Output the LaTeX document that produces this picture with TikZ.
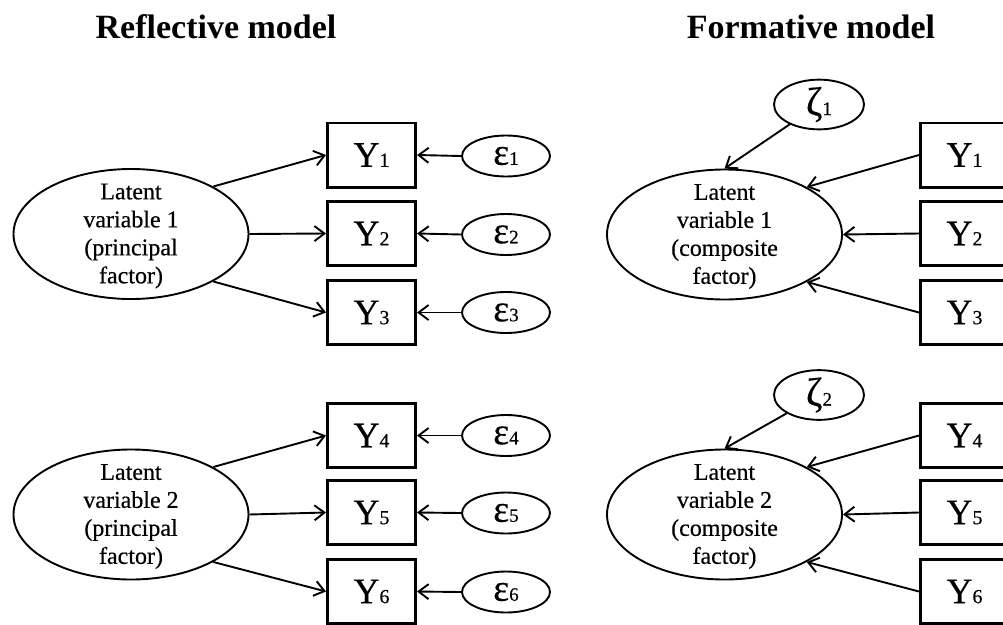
\documentclass[tikz,border=0pt]{standalone}
\usepackage{fontspec}
\setmainfont{Liberation Serif}[UprightFeatures={FakeBold=0.4}]
\usetikzlibrary{shapes.geometric,arrows.meta}
% small digits set on the baseline after a symbol
\newcommand\ydig[1]{{\fontsize{20}{20}\selectfont #1}}
\newcommand\gdig[1]{{\fontsize{19}{19}\selectfont #1}}
\begin{document}
\begin{tikzpicture}[x=1pt,y=-1pt,
  lat/.style={ellipse,draw,line width=1.9pt,inner sep=0pt,
    minimum width=235pt,minimum height=130pt},
  lattext/.style={align=center,inner sep=0pt,
    font=\fontsize{24}{28}\selectfont},
  obs/.style={rectangle,draw,line width=2.8pt,inner sep=0pt,
    minimum width=88.2pt,minimum height=64.2pt,
    font=\fontsize{36}{36}\selectfont},
  err/.style={ellipse,draw,line width=1.9pt,inner sep=0pt,
    minimum width=88pt,minimum height=41pt,
    font=\fontsize{38}{38}\selectfont},
  dist/.style={ellipse,draw,line width=1.9pt,inner sep=0pt,
    minimum width=90pt,minimum height=41pt,
    font=\fontsize{40}{40}\selectfont},
  link/.style={line width=1.9pt,-{Straight Barb[length=10pt,width=15pt]}},
  heading/.style={anchor=base,inner sep=0pt,
    font=\bfseries\fontsize{34}{34}\selectfont}
]
\useasboundingbox (0,0) rectangle (1003,624);
\clip (0,0) rectangle (1003,624);

% headings
\node[heading] (hr) at (216,38) {Reflective model};
\node[heading] (hf) at (811,38) {Formative model};

% ---------- reflective model ----------
\node[lat] (r1) at (131,234) {};
\node[lattext] (r1t) at (131,236) {Latent\\variable 1\\(principal\\factor)};
\node[lat] (r2) at (131,514.5) {};
\node[lattext] (r2t) at (131,516.5) {Latent\\variable 2\\(principal\\factor)};

\node[obs] (y1) at (371.5,155)   {Y\ydig{1}};
\node[obs] (y2) at (371.5,233.5) {Y\ydig{2}};
\node[obs] (y3) at (371.5,312.5) {Y\ydig{3}};
\node[obs] (y4) at (371.5,435.5) {Y\ydig{4}};
\node[obs] (y5) at (371.5,512.5) {Y\ydig{5}};
\node[obs] (y6) at (371.5,591.5) {Y\ydig{6}};

\node[err] (e1) at (506,156)   {ε\gdig{1}};
\node[err] (e2) at (506,234.5) {ε\gdig{2}};
\node[err] (e3) at (506,312.5) {ε\gdig{3}};
\node[err] (e4) at (506,435.5) {ε\gdig{4}};
\node[err] (e5) at (506,513)   {ε\gdig{5}};
\node[err] (e6) at (506,592)   {ε\gdig{6}};

\draw[link] (r1.30)  -- (y1.west);
\draw[link] (r1.east) -- (y2.west);
\draw[link] (r1.-30) -- (y3.west);
\draw[link] (r2.30)  -- (y4.west);
\draw[link] (r2.east) -- (y5.west);
\draw[link] (r2.-30) -- (y6.west);

\foreach \i in {1,...,6}
  \draw[link] (e\i.west) -- (y\i.east);

% ---------- formative model ----------
\node[lat] (f1) at (724.5,234.5) {};
\node[lattext] (f1t) at (724.5,236.5) {Latent\\variable 1\\(composite\\factor)};
\node[lat] (f2) at (724.5,514.5) {};
\node[lattext] (f2t) at (724.5,516.5) {Latent\\variable 2\\(composite\\factor)};

\node[dist] (z1) at (819,104.5) {ζ\gdig{1}};
\node[dist] (z2) at (819,395)   {ζ\gdig{2}};

\node[obs] (x1) at (964.5,155)   {Y\ydig{1}};
\node[obs] (x2) at (964.5,233.5) {Y\ydig{2}};
\node[obs] (x3) at (964.5,312.5) {Y\ydig{3}};
\node[obs] (x4) at (964.5,435.5) {Y\ydig{4}};
\node[obs] (x5) at (964.5,512.5) {Y\ydig{5}};
\node[obs] (x6) at (964.5,591.5) {Y\ydig{6}};

\draw[link] (z1) -- (f1.north);
\draw[link] (z2) -- (f2.north);

\draw[link] (x1.west) -- (f1.30);
\draw[link] (x2.west) -- (f1.east);
\draw[link] (x3.west) -- (f1.-30);
\draw[link] (x4.west) -- (f2.30);
\draw[link] (x5.west) -- (f2.east);
\draw[link] (x6.west) -- (f2.-30);
\end{tikzpicture}
\end{document}
